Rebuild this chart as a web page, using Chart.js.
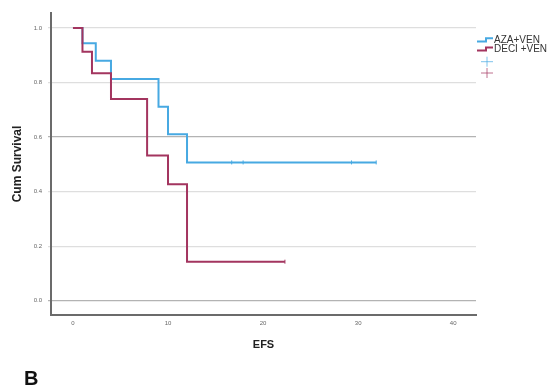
<!DOCTYPE html>
<html>
<head>
<meta charset="utf-8">
<script src="https://cdn.jsdelivr.net/npm/chart.js@4.4.1/dist/chart.umd.min.js"></script>
<style>
  html, body { margin: 0; padding: 0; background: #ffffff; }
  #wrap { position: absolute; left: 0; top: 0; width: 556px; height: 386px; }
</style>
</head>
<body>
<div id="wrap"><canvas id="c" width="556" height="386"></canvas></div>
<script>
// ---- data ----
const seriesNames = ['AZA+VEN', 'DECI +VEN'];
const azaTimes = [0, 1, 2.4, 4, 9, 10, 12, 31.9];
const azaSurv  = [1, 0.944, 0.88, 0.813, 0.711, 0.61, 0.507, 0.507];
const azaCensorTimes = [16.7, 17.9, 29.3, 31.9];
const deciTimes = [0, 1, 2, 4, 7.8, 10, 12, 22.3];
const deciSurv  = [1, 0.913, 0.834, 0.74, 0.532, 0.427, 0.143, 0.143];
const deciCensorTimes = [22.3];
const xTicks = [0, 10, 20, 30, 40];
const yTicks = [0, 0.2, 0.4, 0.6, 0.8, 1.0];
const xTitle = 'EFS';
const yTitle = 'Cum Survival';
const panelLabel = 'B';

const BLUE = '#47a9e2';
const RED = '#a3355f';

function pts(ts, ss) { return ts.map((t, i) => ({ x: t, y: ss[i] })); }
function censorPts(ts, times, surv) {
  return ts.map(t => {
    let s = surv[0];
    for (let i = 0; i < times.length; i++) if (times[i] <= t) s = surv[i];
    return { x: t, y: s };
  });
}

const legendPlugin = {
  id: 'kmLegend',
  afterDraw(chart) {
    const ctx = chart.ctx;
    ctx.save();
    const icons = [
      { c: BLUE, low: 41.5, high: 38.3, ty: 40.5, text: seriesNames[0] },
      { c: RED, low: 50.5, high: 47.5, ty: 49.5, text: seriesNames[1] }
    ];
    icons.forEach(ic => {
      ctx.strokeStyle = ic.c; ctx.lineWidth = 2;
      ctx.beginPath();
      ctx.moveTo(477, ic.low); ctx.lineTo(486, ic.low); ctx.lineTo(486, ic.high); ctx.lineTo(493, ic.high);
      ctx.stroke();
      ctx.fillStyle = '#333';
      ctx.font = '10px "Liberation Sans", Arial, sans-serif';
      ctx.textBaseline = 'middle'; ctx.textAlign = 'left';
      ctx.fillText(ic.text, 494, ic.ty);
    });
    [[BLUE, 61.7], [RED, 73]].forEach(([c, y]) => {
      ctx.strokeStyle = c; ctx.globalAlpha = 0.7; ctx.lineWidth = 1;
      ctx.beginPath();
      ctx.moveTo(481, y); ctx.lineTo(493, y);
      ctx.moveTo(487, y - 5); ctx.lineTo(487, y + 5);
      ctx.stroke();
    });
    ctx.globalAlpha = 1;
    ctx.fillStyle = '#111';
    ctx.font = 'bold 20px "Liberation Sans", Arial, sans-serif';
    ctx.textBaseline = 'alphabetic'; ctx.textAlign = 'left';
    ctx.fillText(panelLabel, 24, 385);
    ctx.restore();
  }
};

new Chart(document.getElementById('c'), {
  type: 'line',
  data: {
    datasets: [
      { label: seriesNames[1], data: pts(deciTimes, deciSurv), borderColor: RED, borderWidth: 2,
        stepped: 'before', pointRadius: 0, fill: false },
      { label: seriesNames[0], data: pts(azaTimes, azaSurv), borderColor: BLUE, borderWidth: 2,
        stepped: 'before', pointRadius: 0, fill: false },
      { label: 'c2', data: censorPts(deciCensorTimes, deciTimes, deciSurv), showLine: false,
        pointStyle: 'line', rotation: 90, pointRadius: 2, borderColor: RED, borderWidth: 1 },
      { label: 'c1', data: censorPts(azaCensorTimes, azaTimes, azaSurv), showLine: false,
        pointStyle: 'line', rotation: 90, pointRadius: 2, borderColor: BLUE, borderWidth: 1 }
    ]
  },
  options: {
    responsive: false,
    animation: false,
    events: [],
    layout: { padding: { left: 0, top: 13, right: 80, bottom: 0 } },
    plugins: { legend: { display: false }, tooltip: { enabled: false } },
    scales: {
      x: {
        type: 'linear', min: -2.31, max: 42.4,
        afterFit(s) { s.height = 71; },
        afterBuildTicks(s) { s.ticks = xTicks.map(v => ({ value: v })); },
        grid: { display: false, drawTicks: false },
        border: { display: true, color: '#6b6b6b', width: 2 },
        ticks: { padding: 5, color: '#666', font: { size: 6, family: '"Liberation Sans", Arial, sans-serif' },
                 callback: v => String(v) },
        title: { display: true, text: xTitle, color: '#222',
                 font: { size: 11, weight: 'bold', family: '"Liberation Sans", Arial, sans-serif' },
                 padding: { top: 0, bottom: 34 } }
      },
      y: {
        type: 'linear', min: -0.0525, max: 1.055,
        afterFit(s) { s.width = 51; },
        afterBuildTicks(s) { s.ticks = yTicks.map(v => ({ value: v })); },
        grid: {
          display: true, drawTicks: true, tickLength: 3, lineWidth: 1.2,
          color: c => (Math.abs(c.tick.value) < 1e-6 || Math.abs(c.tick.value - 0.6) < 1e-6) ? '#b3b3b3' : '#dedede'
        },
        border: { display: true, color: '#6b6b6b', width: 2 },
        ticks: { padding: 6, color: '#666', font: { size: 6, family: '"Liberation Sans", Arial, sans-serif' },
                 callback: v => Number(v).toFixed(1) },
        title: { display: true, text: yTitle, color: '#222',
                 font: { size: 12, weight: '600', family: '"Liberation Sans", Arial, sans-serif' },
                 padding: { top: 10, bottom: 0 } }
      }
    }
  },
  plugins: [legendPlugin]
});
</script>
</body>
</html>
